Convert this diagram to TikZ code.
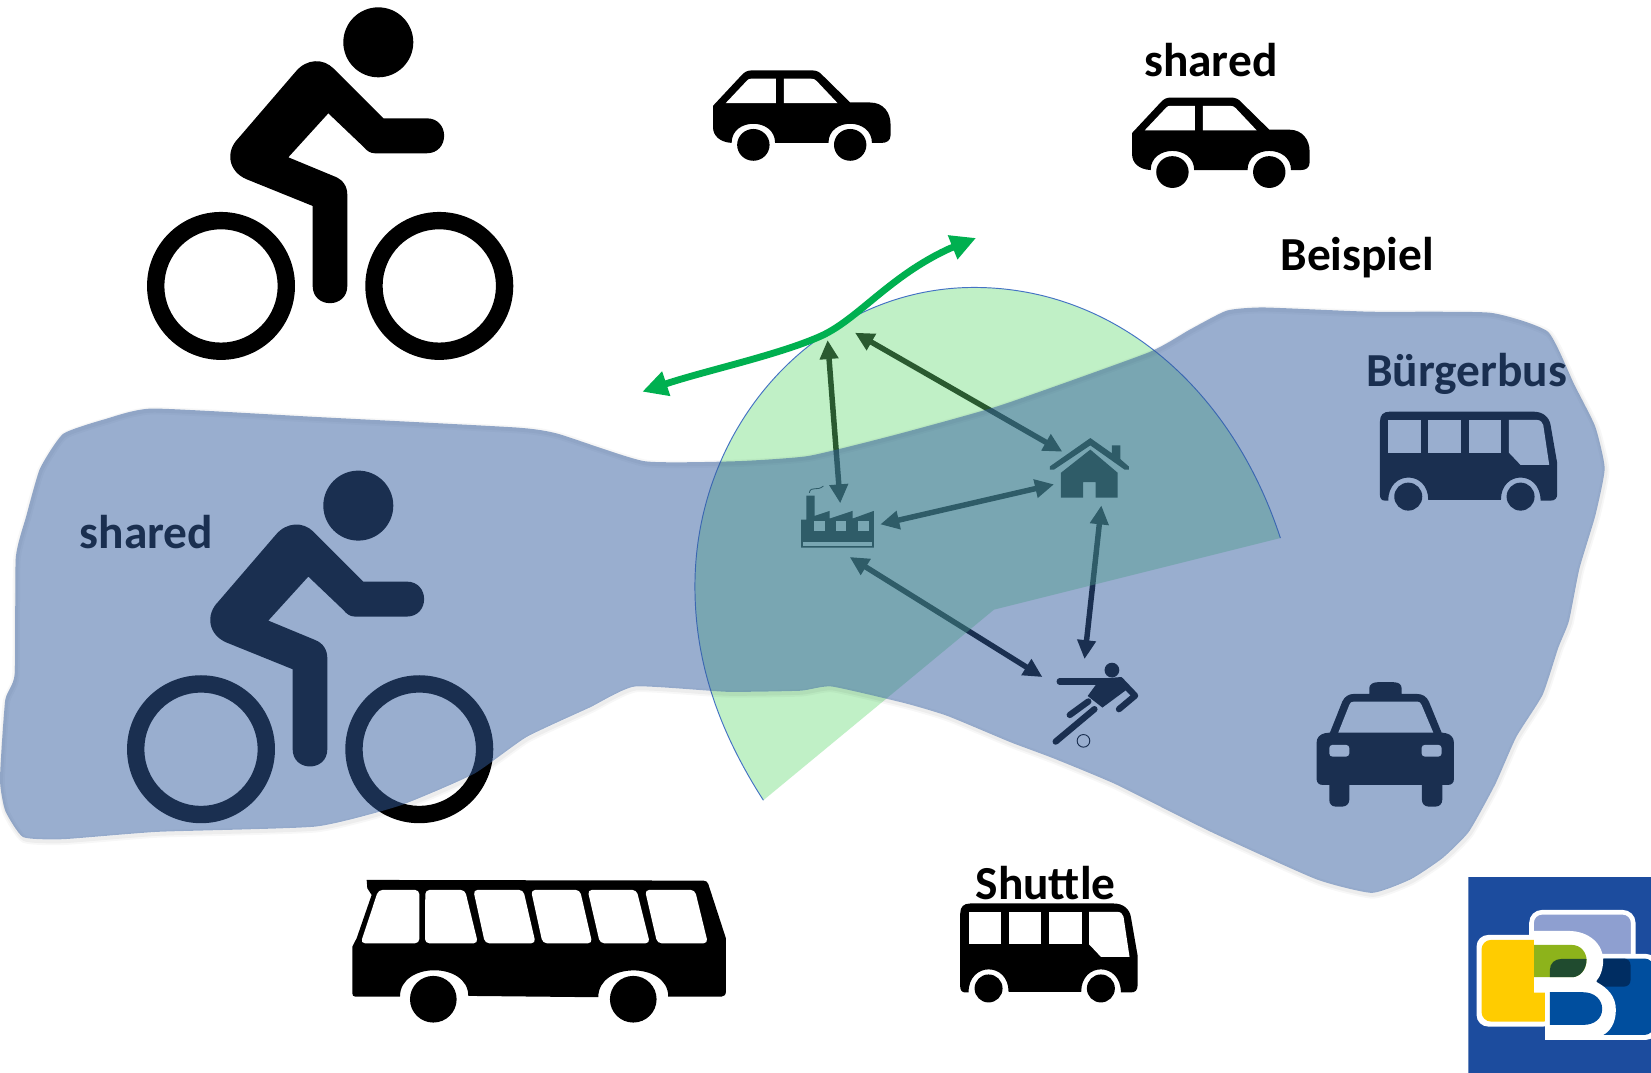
\documentclass[tikz,border=0pt]{standalone}
\usepackage{fontspec}
\setmainfont{Carlito}
\usetikzlibrary{arrows.meta}
\definecolor{blobc}{RGB}{52,94,160}
\definecolor{sectorc}{RGB}{102,220,117}
\definecolor{sectorline}{RGB}{68,114,196}
\definecolor{greenarrow}{RGB}{0,176,80}
\definecolor{logobg}{RGB}{28,76,158}
\definecolor{logolight}{RGB}{142,159,208}
\definecolor{logoblue}{RGB}{0,78,158}
\definecolor{logonavy}{RGB}{0,45,98}
\definecolor{logoyellow}{RGB}{255,204,0}
\definecolor{logogreen}{RGB}{141,179,27}
\definecolor{logodark}{RGB}{32,75,47}
\tikzset{
  ink/.style={fill=black,draw=none},
  hole/.style={fill=white,draw=none},
  label/.style={font=\fontsize{45}{50}\selectfont\bfseries,text=black,inner sep=0pt},
  link/.style={{Triangle[length=18pt,width=17pt]}-{Triangle[length=18pt,width=17pt]},line width=5.2pt,black},
}
\newcommand{\blobpath}{plot[smooth cycle,tension=.3] coordinates{
(0,740)(5,665)(14,640)(15,530)(25,490)(38,445)(60,412)(100,398)(145,388)(300,396)(490,406)(530,412)(612,438)(700,438)(768,433)(850,413)(950,385)(1090,335)(1130,313)(1165,295)(1200,292)(1300,296)(1415,297)(1470,315)(1495,365)(1515,405)(1524,445)(1515,490)(1500,540)(1490,590)(1480,615)(1465,660)(1440,700)(1420,745)(1395,790)(1370,815)(1340,835)(1303,848)(1250,835)(1150,790)(1060,745)(1000,720)(960,705)(900,680)(860,668)(790,652)(760,656)(690,657)(603,652)(560,672)(500,700)(450,735)(380,765)(300,785)(150,790)(60,797)(22,795)(5,770)}}
\newcommand{\sectorarc}{(725,760) .. controls (680,690) and (660,625) .. (660,557) .. controls (660,400) and (780,273) .. (925,273) .. controls (1060,273) and (1170,370) .. (1216,511)}
\newcommand{\cyclistIcon}[2]{\begin{scope}[shift={(#1,#2)},scale=.3165]
 \fill[ink] (745,127) circle (105);
 \fill[ink] (497,215) .. controls (530,175) and (580,175) .. (610,205) -- (760,355) -- (890,355)
   .. controls (960,355) and (960,460) .. (890,460) -- (735,460) .. controls (720,460) and (710,452) .. (700,440)
   -- (595,340) -- (475,472) -- (615,530) .. controls (640,540) and (652,560) .. (652,585) -- (652,858)
   .. controls (652,927) and (548,927) .. (548,858) -- (548,618) -- (350,538)
   .. controls (295,515) and (285,455) .. (325,415) -- cycle;
 \fill[ink,even odd rule] (273,858) circle (222) (273,858) circle (170);
 \fill[ink,even odd rule] (928,858) circle (222) (928,858) circle (170);
\end{scope}}
\newcommand{\carIcon}[2]{\begin{scope}[shift={(#1,#2)},xscale=.3754,yscale=.3146]
 \fill[ink] (33,190) -- (105,98) .. controls (112,88) and (120,83) .. (132,83) -- (283,83)
   .. controls (295,83) and (303,88) .. (310,98) -- (380,180) -- (430,180)
   .. controls (465,180) and (482,212) .. (482,245) -- (482,280) .. controls (482,295) and (472,302) .. (460,302)
   -- (435,302) .. controls (435,225) and (325,225) .. (325,302) -- (190,302)
   .. controls (190,225) and (80,225) .. (80,302) .. controls (50,300) and (33,280) .. (33,255) -- cycle;
 \fill[hole] (65,182) -- (118,115) .. controls (121,110) and (125,108) .. (130,108) -- (192,108) -- (192,182) -- cycle;
 \fill[hole] (212,108) -- (280,108) .. controls (287,108) and (291,110) .. (295,115) -- (348,182) -- (212,182) -- cycle;
 \fill[ink] (135,308) ellipse (41 and 48);
 \fill[ink] (380,308) ellipse (41 and 48);
\end{scope}}
\newcommand{\smallbusIcon}[2]{\begin{scope}[shift={(#1,#2)},scale=.3165]
 \fill[ink] (270,215) -- (700,215) .. controls (730,215) and (748,232) .. (752,255) -- (772,370) -- (772,462)
   .. controls (772,475) and (765,482) .. (752,482) -- (722,482) .. controls (722,390) and (603,390) .. (603,480)
   -- (385,480) .. controls (385,390) and (265,390) .. (265,482) -- (255,482) .. controls (245,482) and (240,475) .. (240,465)
   -- (240,245) .. controls (240,225) and (250,215) .. (270,215) -- cycle;
 \fill[hole] (265,240) rectangle (362,338);
 \fill[hole] (385,240) rectangle (483,338);
 \fill[hole] (507,240) rectangle (604,338);
 \fill[hole] (627,240) -- (712,240) .. controls (722,240) and (728,248) .. (730,255) -- (748,375) -- (662,375) -- (627,338) -- cycle;
 \fill[ink] (325,470) circle (42);
 \fill[ink] (662,470) circle (42);
\end{scope}}
\begin{document}
\begin{tikzpicture}[x=1pt,y=-1pt]
\useasboundingbox (0,0) rectangle (1568,1019);
\fill[white] (0,0) rectangle (1568,1019);
% icons that lie under the translucent shapes
\cyclistIcon{123.5}{0}
\cyclistIcon{104.5}{440}
\carIcon{664.8}{40.7}
\carIcon{1062.8}{66.5}
\smallbusIcon{1234.6}{322.9}
\smallbusIcon{836}{790}
% big bus
\begin{scope}[shift={(322.9,816.7)},scale=.3165]
 \fill[ink] (80,60) -- (1090,62) .. controls (1098,62) and (1103,66) .. (1105,72) -- (1158,235) -- (1158,395)
   .. controls (1158,405) and (1152,410) .. (1145,410) -- (985,410) .. controls (985,305) and (775,305) .. (775,412)
   -- (385,408) .. controls (385,305) and (180,305) .. (180,410) -- (45,410) .. controls (40,410) and (37,406) .. (37,400)
   -- (37,260) -- (50,235) -- (95,105) -- (82,85) -- cycle;
 \begin{scope}[rounded corners=4pt]
 \fill[hole] (115,90) -- (238,90) -- (238,250) -- (62,250) -- cycle;
 \fill[hole] (256,90) -- (375,90) -- (414,250) -- (255,250) -- cycle;
 \fill[hole] (400,90) -- (550,90) -- (587,250) -- (435,250) -- cycle;
 \fill[hole] (573,90) -- (720,90) -- (757,250) -- (608,250) -- cycle;
 \fill[hole] (743,90) -- (890,90) -- (930,250) -- (780,250) -- cycle;
 \fill[hole] (915,90) -- (1065,90) -- (1104,250) -- (952,250) -- cycle;
 \end{scope}
 \fill[ink] (280,418) circle (70);
 \fill[ink] (880,418) circle (70);
\end{scope}
% taxi
\begin{scope}[shift={(1234.6,322.9)},scale=.3165]
 \fill[ink] (208,1062) -- (208,1045) .. controls (208,1033) and (220,1027) .. (232,1027) -- (282,1027)
   .. controls (295,1027) and (305,1033) .. (305,1045) -- (305,1062) -- (350,1062)
   .. controls (368,1062) and (380,1070) .. (387,1085) -- (425,1178) -- (438,1180)
   .. controls (452,1183) and (462,1193) .. (462,1208) -- (462,1318) .. controls (462,1328) and (455,1335) .. (445,1335)
   -- (427,1335) -- (427,1380) .. controls (427,1392) and (418,1400) .. (408,1400) -- (385,1400)
   .. controls (375,1400) and (366,1392) .. (366,1380) -- (366,1335) -- (148,1335) -- (148,1380)
   .. controls (148,1392) and (138,1400) .. (128,1400) -- (106,1400) .. controls (96,1400) and (88,1392) .. (88,1380)
   -- (88,1335) -- (67,1335) .. controls (57,1335) and (50,1328) .. (50,1318) -- (50,1208)
   .. controls (50,1193) and (60,1183) .. (75,1180) -- (90,1178) -- (127,1085)
   .. controls (134,1070) and (146,1062) .. (162,1062) -- cycle;
 \fill[hole] (115,1178) -- (148,1095) .. controls (150,1088) and (155,1085) .. (162,1085) -- (352,1085)
   .. controls (358,1085) and (362,1088) .. (365,1095) -- (400,1178) -- cycle;
 \fill[hole,rounded corners=3pt] (88,1215) rectangle (148,1250);
 \fill[hole,rounded corners=3pt] (365,1215) rectangle (425,1250);
\end{scope}
% house
\fill[ink] (997,443) -- (1035.5,416) -- (1056,430.5) -- (1056,423) -- (1064,423) -- (1064,436) -- (1072,443) -- (1072,446) -- (1068,446) -- (1035.5,423) -- (1001,446) -- (997,446) -- cycle;
\fill[ink] (1007.6,449) -- (1035.5,427) -- (1061.5,449) -- (1061.5,472.5) -- (1040.6,472.5) -- (1040.6,458) -- (1028.6,458) -- (1028.6,472.5) -- (1007.6,472.5) -- cycle;
% factory
\fill[ink] (760.8,493.6) -- (765.9,493.6) -- (765.9,470.7) -- (773.6,470.7) -- (773.6,490) -- (788,485.2) -- (788,492.5) -- (809.7,485.2) -- (809.7,492.5) -- (829.9,485.2) -- (829.9,520) -- (760.8,520) -- cycle;
\fill[hole] (772.9,494.7) rectangle (783.3,504.5);
\fill[hole] (793.8,494.7) rectangle (803.9,504.5);
\fill[hole] (814.4,494.7) rectangle (824.9,504.5);
\fill[hole] (762.8,514.3) rectangle (828,518.3);
\draw[black,line width=.8pt] (768.6,468) .. controls (770,461) and (776,467) .. (782,461.6);
% footballer
\fill[ink] (1056,636.4) circle (7);
\draw[black,line width=6pt,line cap=round] (1006.4,647.3) -- (1050,647.3);
\fill[ink] (1045,644.5) -- (1065,643) -- (1072,653.5) -- (1047,672) -- (1033,661) -- cycle;
\draw[black,line width=6pt,line cap=round,line join=round] (1064,646) -- (1078,660.7) -- (1062.7,673.5);
\draw[black,line width=6pt,line cap=round] (1033.6,666.2) -- (1016,679);
\draw[black,line width=6pt,line cap=round] (1039.4,673.5) -- (1002.6,704.3);
\draw[black,line width=.9pt] (1029,703.6) circle (6);
% connectors between the places
\coordinate (fup) at (798,478);
\coordinate (tip1) at (786,323);
\coordinate (tip2) at (812,316);
\coordinate (hup) at (1009,429);
\coordinate (fright) at (836,498);
\coordinate (hleft) at (1001,460);
\coordinate (hdown) at (1046,480);
\coordinate (pup) at (1030,626);
\coordinate (fdown) at (807,529);
\coordinate (pleft) at (990,643);
\draw[link] (tip1) -- (fup);
\draw[link] (tip2) -- (hup);
\draw[link] (fright) -- (hleft);
\draw[link] (hdown) -- (pup);
\draw[link] (fdown) -- (pleft);
% texts under the translucent blob
\node[label] (t1) at (1150,57) {shared};
\node[label] (t2) at (1289,245) {Beispiel};
\node[label] (t3) at (1393,355) {Bürgerbus};
\node[label] (t4) at (139,505) {shared};
\node[label] (t5) at (993,839) {Shuttle};
% green sector
\fill[sectorc,opacity=.41] \sectorarc -- (944,579) -- cycle;
\draw[sectorline,line width=.9pt] \sectorarc;
% soft shadow of the blob
\draw[black,opacity=.03,line width=7pt,shift={(1,2)}] \blobpath;
\draw[black,opacity=.04,line width=3.5pt,shift={(1,2)}] \blobpath;
% blue blob
\fill[blobc,opacity=.5] \blobpath;
% green arrow
\coordinate (gs) at (610,372);
\coordinate (ge) at (927,226);
\draw[greenarrow,line width=6.5pt,{Triangle[length=24pt,width=23pt]}-{Triangle[length=24pt,width=23pt]}] (gs) .. controls (670,352) and (740,337) .. (780,319) .. controls (815,303) and (845,262) .. (902,236) -- (ge);
% logo
\begin{scope}
\clip (1394.5,832.5) rectangle (1568,1019);
\fill[logobg] (1394.5,832.5) rectangle (1568,1019);
\begin{scope}[shift={(1367.5,816.7)},scale=.3165]
 \draw[white,line width=4.4pt,fill=logolight,rounded corners=10pt] (275,157) rectangle (580,388);
 \fill[white,rounded corners=10pt] (450,282) rectangle (650,540);
 \fill[logoblue,rounded corners=8pt] (470,296) rectangle (640,525);
 \fill[logonavy,rounded corners=6pt] (470,296) -- (572,296) -- (572,380) -- (470,380) -- cycle;
 \fill[white,rounded corners=11pt] (110,225) rectangle (345,500);
 \fill[logoyellow,rounded corners=9pt] (125,240) rectangle (340,485);
 \fill[white] (283,213) -- (385,213) .. controls (450,213) and (490,255) .. (490,300) .. controls (490,330) and (480,352) .. (468,365)
   .. controls (505,385) and (528,410) .. (528,450) .. controls (528,490) and (510,515) .. (490,525) -- (480,540) -- (316,540) -- (316,398) -- (283,398) -- cycle;
 \fill[logogreen] (283,255) -- (395,255) .. controls (425,255) and (440,280) .. (440,300) .. controls (440,330) and (420,352) .. (395,352) -- (283,352) -- cycle;
 \fill[logodark] (330,352) -- (330,330) .. controls (330,310) and (345,297) .. (365,297) -- (440,297) .. controls (440,330) and (420,352) .. (395,352) -- cycle;
 \fill[logoblue] (330,397) -- (430,397) .. controls (465,397) and (487,420) .. (487,447) .. controls (487,475) and (465,495) .. (430,495) -- (330,495) -- cycle;
\end{scope}
\end{scope}
\end{tikzpicture}
\end{document}
